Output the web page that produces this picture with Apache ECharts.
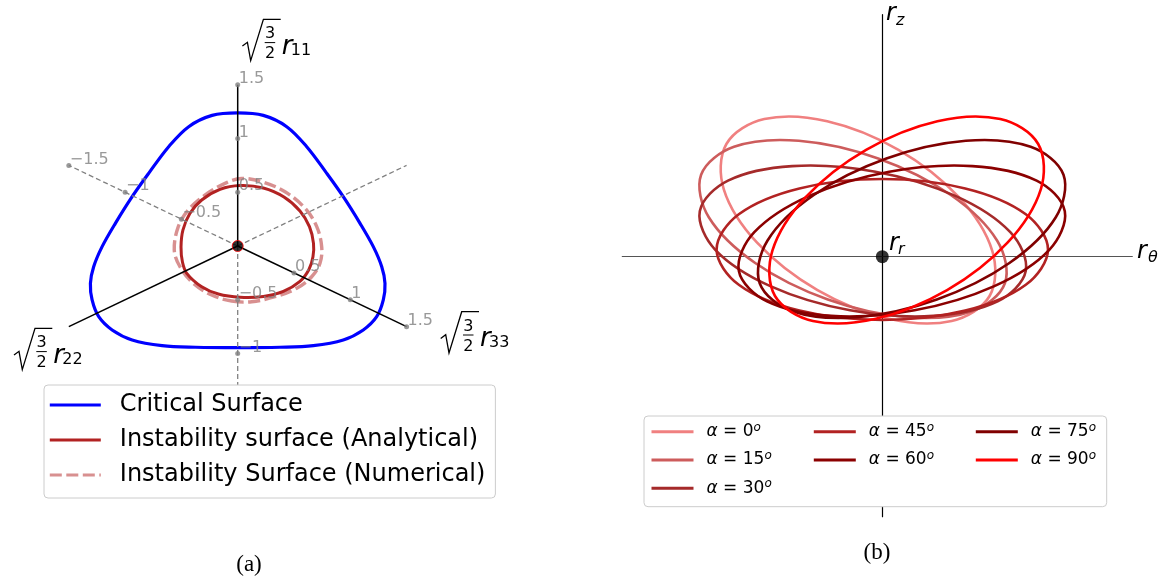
<!DOCTYPE html>
<html>
<head>
<meta charset="utf-8">
<script src="https://cdn.jsdelivr.net/npm/echarts@6/dist/echarts.min.js"></script>
<style>
  html, body { margin: 0; padding: 0; background: #ffffff; }
  #chart { width: 1161px; height: 578px; }
</style>
</head>
<body>
<div id="chart"></div>
<script>
// ---------- Panel (a): sections in the deviatoric plane ----------
// closed curves as [u, v] points in the plane of the three stress axes
const criticalSurface = [
  [0, -0.946], [0.325, -0.942], [0.582, -0.927], [0.812, -0.874], [0.966, -0.781],
  [1.069, -0.658], [1.12, -0.502], [1.133, -0.347], [1.108, -0.193], [1.043, -0.006],
  [0.941, 0.211], [0.812, 0.459], [0.685, 0.676], [0.531, 0.924], [0.377, 1.110],
  [0.197, 1.215], [0, 1.238], [-0.197, 1.215], [-0.377, 1.110], [-0.531, 0.924],
  [-0.685, 0.676], [-0.812, 0.459], [-0.941, 0.211], [-1.043, -0.006], [-1.108, -0.193],
  [-1.133, -0.347], [-1.12, -0.502], [-1.069, -0.658], [-0.966, -0.781], [-0.812, -0.874],
  [-0.582, -0.927], [-0.325, -0.942]
];
const instabilityAnalytical = [
  [0.018, -0.477], [0.197, -0.470], [0.351, -0.423], [0.479, -0.330], [0.548, -0.219],
  [0.579, -0.100], [0.583, 0.025], [0.552, 0.180], [0.479, 0.326], [0.356, 0.456],
  [0.197, 0.540], [0.018, 0.563], [-0.136, 0.527], [-0.277, 0.428], [-0.367, 0.304],
  [-0.421, 0.149], [-0.436, -0.009], [-0.425, -0.149], [-0.392, -0.254], [-0.277, -0.379],
  [-0.149, -0.447]
];
const instabilityNumerical = [
  [-0.046, -0.512], [0.108, -0.518], [0.287, -0.472], [0.454, -0.393], [0.569, -0.286],
  [0.633, -0.161], [0.646, -0.007], [0.608, 0.180], [0.518, 0.351], [0.364, 0.505],
  [0.185, 0.598], [0.03, 0.628], [-0.085, 0.59], [-0.252, 0.474], [-0.38, 0.335],
  [-0.457, 0.18], [-0.488, -0.037], [-0.444, -0.193], [-0.342, -0.347], [-0.2, -0.456]
];
// stress axes: direction in the plane (degrees) and drawn length
const stressAxes = [
  { sub: '11', angle: 90 },
  { sub: '22', angle: 210 },
  { sub: '33', angle: 330 }
];
const axisExtent = 1.5;
const r11Ticks = [0.5, 1, 1.5, -0.5, -1, -1.5];
const r33Ticks = [0.5, 1, 1.5, -0.5, -1, -1.5];

// ---------- Panel (b): loops in the (r_theta, r_z) plane ----------
const alphaLabels = ['0', '15', '30', '45', '60', '75', '90'];
const alphaColors = ['#f08080', '#cd5c5c', '#a52a2a', '#b22222', '#8b0000', '#800000', '#ff0000'];
const loopAlpha0 = [
  [-0.648, -0.335], [0.065, -0.621], [0.694, -0.642], [1.073, -0.393], [1.099, 0.060],
  [0.766, 0.595], [0.162, 1.069], [-0.551, 1.355], [-1.180, 1.376], [-1.559, 1.127],
  [-1.585, 0.674], [-1.252, 0.140]
];
const loopAlpha15 = [
  [-0.545, -0.428], [0.249, -0.605], [0.897, -0.545], [1.226, -0.265], [1.149, 0.160],
  [0.685, 0.617], [-0.041, 0.982], [-0.835, 1.159], [-1.483, 1.099], [-1.812, 0.819],
  [-1.735, 0.394], [-1.271, -0.063]
];
const loopAlpha30 = [
  [-0.322, -0.536], [0.511, -0.592], [1.153, -0.447], [1.435, -0.141], [1.280, 0.245],
  [0.730, 0.608], [-0.069, 0.850], [-0.901, 0.906], [-1.543, 0.761], [-1.825, 0.455],
  [-1.670, 0.069], [-1.120, -0.294]
];
const loopAlpha45 = [
  [0, -0.633], [0.829, -0.539], [1.435, -0.281], [1.657, 0.072], [1.435, 0.425],
  [0.829, 0.683], [0, 0.777], [-0.829, 0.683], [-1.435, 0.425], [-1.657, 0.072],
  [-1.435, -0.281], [-0.829, -0.539]
];
const loopAlpha60 = [
  [0.322, -0.536], [-0.511, -0.592], [-1.153, -0.447], [-1.435, -0.141], [-1.280, 0.245],
  [-0.730, 0.608], [0.069, 0.850], [0.901, 0.906], [1.543, 0.761], [1.825, 0.455],
  [1.670, 0.069], [1.120, -0.294]
];
const loopAlpha75 = [
  [0.545, -0.428], [-0.249, -0.605], [-0.897, -0.545], [-1.226, -0.265], [-1.149, 0.160],
  [-0.685, 0.617], [0.041, 0.982], [0.835, 1.159], [1.483, 1.099], [1.812, 0.819],
  [1.735, 0.394], [1.271, -0.063]
];
const loopAlpha90 = [
  [0.648, -0.335], [-0.065, -0.621], [-0.694, -0.642], [-1.073, -0.393], [-1.099, 0.060],
  [-0.766, 0.595], [-0.162, 1.069], [0.551, 1.355], [1.180, 1.376], [1.559, 1.127],
  [1.585, 0.674], [1.252, 0.140]
];
const alphaLoops = [loopAlpha0, loopAlpha15, loopAlpha30, loopAlpha45, loopAlpha60, loopAlpha75, loopAlpha90];

// ---------- helpers ----------
const FONT = 'DejaVu Sans';
const rad = d => d * Math.PI / 180;
const fmtTick = v => (v < 0 ? '\u2212' : '') + Math.abs(v);
const alphaName = a => '\u03b1=' + a;

const seriesList = [];

// dashed negative half-axes, then solid positive half-axes
stressAxes.forEach(ax => {
  const c = Math.cos(rad(ax.angle)), s = Math.sin(rad(ax.angle));
  seriesList.push({
    type: 'line', xAxisIndex: 0, yAxisIndex: 0, silent: true, symbol: 'none',
    data: [[0, 0], [-axisExtent * c, -axisExtent * s]],
    lineStyle: { color: '#808080', width: 1.3, type: [5, 3] }
  });
});
stressAxes.forEach(ax => {
  const c = Math.cos(rad(ax.angle)), s = Math.sin(rad(ax.angle));
  seriesList.push({
    type: 'line', xAxisIndex: 0, yAxisIndex: 0, silent: true, symbol: 'none',
    data: [[0, 0], [axisExtent * c, axisExtent * s]],
    lineStyle: { color: '#000000', width: 1.5 }
  });
});

// a closed loop through its points, drawn as a smooth closed path on the cartesian grid
function loopSeries(points, color, width, dash, gi) {
  return {
    type: 'custom', coordinateSystem: 'cartesian2d', xAxisIndex: gi, yAxisIndex: gi,
    silent: true, data: points, encode: { x: 0, y: 1 },
    renderItem: (params, api) => {
      if (params.dataIndex !== 0) return null;
      return {
        type: 'polygon',
        shape: { points: points.map(p => api.coord(p)), smooth: 0.35 },
        style: { fill: 'none', stroke: color, lineWidth: width, lineDash: dash || null }
      };
    }
  };
}
// legend entry carrying the line style of a loop
function legendEntry(name, color, width, dash, gi) {
  return {
    name, type: 'line', xAxisIndex: gi, yAxisIndex: gi, data: [], symbol: 'none', silent: true,
    lineStyle: { color, width, type: dash || 'solid' }, itemStyle: { color }
  };
}

const curvesA = [
  { name: 'Critical Surface', data: criticalSurface, color: '#0000ff', width: 3.2, dash: null },
  { name: 'Instability Surface (Numerical)', data: instabilityNumerical, color: 'rgba(178,34,34,0.5)', width: 3.4, dash: [12, 4.5] },
  { name: 'Instability surface (Analytical)', data: instabilityAnalytical, color: '#b22222', width: 3, dash: null }
];
curvesA.forEach(c => {
  seriesList.push(loopSeries(c.data, c.color, c.width, c.dash, 0));
  seriesList.push(legendEntry(c.name, c.color, c.width, c.dash, 0));
});

// tick marks with value labels on the r11 and r33 axes
const c33 = Math.cos(rad(330)), s33 = Math.sin(rad(330));
const tickPoints = [];
r11Ticks.forEach(t => tickPoints.push({ value: [0, t], name: fmtTick(t) }));
r33Ticks.forEach(t => tickPoints.push({ value: [t * c33, t * s33], name: fmtTick(t) }));
seriesList.push({
  type: 'scatter', xAxisIndex: 0, yAxisIndex: 0, silent: true,
  data: tickPoints, symbolSize: 5, z: 3,
  itemStyle: { color: '#808080' },
  label: {
    show: true, position: 'inside', align: 'left', verticalAlign: 'bottom',
    offset: [1, 2], formatter: p => p.name,
    color: '#808080', fontSize: 16, lineHeight: 16, fontFamily: FONT
  }
});
// origin
seriesList.push({
  type: 'scatter', xAxisIndex: 0, yAxisIndex: 0, silent: true,
  data: [[0, 0]], symbolSize: 11, z: 3,
  itemStyle: { color: '#000000', borderColor: '#ff0000', borderWidth: 1 }
});

// panel (b) loops
alphaLoops.forEach((loop, i) => {
  seriesList.push(loopSeries(loop, alphaColors[i], 2.6, null, 1));
  seriesList.push(legendEntry(alphaName(alphaLabels[i]), alphaColors[i], 2.6, null, 1));
});
seriesList.push({
  type: 'scatter', xAxisIndex: 1, yAxisIndex: 1, silent: true,
  data: [[0, 0]], symbolSize: 13, itemStyle: { color: '#000000' }, z: 5
});

// sqrt(3/2) r_ij axis title
function radicalLabel(x, y, sub) {
  const t = (text, tx, ty, font, align, va) => ({
    type: 'text', x: tx, y: ty,
    style: { text, font, fill: '#000', align, verticalAlign: va, textAlign: align, textVerticalAlign: va }
  });
  return {
    type: 'group', x, y, children: [
      { type: 'polyline', shape: { points: [[0.7, 26.7], [5.7, 23], [9, 41.3], [21.7, 0], [39, 0]] },
        style: { stroke: '#000', lineWidth: 1.3, fill: null } },
      t('3', 28.3, 14.7, '16px "DejaVu Sans"', 'center', 'middle'),
      { type: 'line', shape: { x1: 23, y1: 23.3, x2: 33.5, y2: 23.3 }, style: { stroke: '#000', lineWidth: 1 } },
      t('2', 28.3, 34.9, '16px "DejaVu Sans"', 'center', 'middle'),
      t('r', 40, 40.5, 'italic 26px "DejaVu Sans"', 'left', 'bottom'),
      t(sub, 49, 39.5, '16px "DejaVu Sans"', 'left', 'bottom')
    ]
  };
}
function mathLabel(x, y, sub, subDx, subDy) {
  return {
    type: 'group', x, y, children: [
      { type: 'text', x: 0, y: 0, style: { text: 'r', font: 'italic 24px "DejaVu Sans"', fill: '#000',
        align: 'left', verticalAlign: 'bottom', textAlign: 'left', textVerticalAlign: 'bottom' } },
      { type: 'text', x: subDx, y: subDy, style: { text: sub, font: 'italic 16px "DejaVu Sans"', fill: '#000',
        align: 'left', verticalAlign: 'bottom', textAlign: 'left', textVerticalAlign: 'bottom' } }
    ]
  };
}
const caption = (text, x, y) => ({
  type: 'text', x, y,
  style: { text, font: '23px "Liberation Serif"', fill: '#000', align: 'center', verticalAlign: 'middle',
    textAlign: 'center', textVerticalAlign: 'middle' }
});

const alphaRich = {
  i: { fontStyle: 'italic', fontSize: 17, fontFamily: FONT, lineHeight: 20 },
  n: { fontSize: 17, fontFamily: FONT, lineHeight: 20 },
  s: { fontStyle: 'italic', fontSize: 12, fontFamily: FONT, lineHeight: 12, verticalAlign: 'top' }
};
const alphaLegend = (names, left) => ({
  orient: 'vertical', left, top: 421.7, padding: 0, itemGap: 8.3,
  itemWidth: 42, itemHeight: 14, selectedMode: false,
  data: names,
  itemStyle: { opacity: 0 },
  lineStyle: { width: 3 },
  formatter: name => '{i|\u03b1}{n| = ' + name.split('=')[1] + '}{s|o}',
  textStyle: { fontSize: 17, fontFamily: FONT, color: '#000', lineHeight: 20, padding: [0, 0, 0, 8], rich: alphaRich }
});

const option = {
  animation: false,
  backgroundColor: '#ffffff',
  textStyle: { fontFamily: FONT },
  grid: [
    { left: 3.7, top: 74, width: 468, height: 344 },
    { left: 622.3, top: 14.7, width: 510, height: 502 }
  ],
  xAxis: [
    { gridIndex: 0, type: 'value', min: -1.8, max: 1.8, show: false },
    { gridIndex: 1, type: 'value', min: -2.6, max: 2.5,
      axisLine: { show: true, onZero: true, lineStyle: { color: '#555555', width: 1.2 } },
      axisTick: { show: false }, axisLabel: { show: false }, splitLine: { show: false } }
  ],
  yAxis: [
    { gridIndex: 0, type: 'value', min: -1.6, max: 1.6, show: false },
    { gridIndex: 1, type: 'value', min: -2.6, max: 2.42,
      axisLine: { show: true, onZero: true, lineStyle: { color: '#000000', width: 1.2 } },
      axisTick: { show: false }, axisLabel: { show: false }, splitLine: { show: false } }
  ],
  legend: [
    {
      orient: 'vertical', left: 44, top: 385,
      padding: [5.5, 10, 8.5, 4.3], itemGap: 6, itemWidth: 51, itemHeight: 20,
      selectedMode: false,
      backgroundColor: '#ffffff', borderColor: '#cccccc', borderWidth: 1, borderRadius: 4,
      data: ['Critical Surface', 'Instability surface (Analytical)', 'Instability Surface (Numerical)'],
      itemStyle: { opacity: 0 },
      lineStyle: { width: 3 },
      textStyle: { fontSize: 24, fontFamily: FONT, color: '#000', lineHeight: 29, padding: [0, 0, 0, 14] }
    },
    alphaLegend([alphaName('0'), alphaName('15'), alphaName('30')], 650),
    alphaLegend([alphaName('45'), alphaName('60')], 812.3),
    alphaLegend([alphaName('75'), alphaName('90')], 974.3)
  ],
  graphic: [
    { type: 'rect', z: 3, shape: { x: 644, y: 416, width: 462.7, height: 90.7, r: 4 },
      style: { fill: '#ffffff', stroke: '#cccccc', lineWidth: 1 } },
    radicalLabel(241.7, 19.3, '11'),
    radicalLabel(13.3, 328.3, '22'),
    radicalLabel(440, 311.7, '33'),
    mathLabel(1137, 263.7, '\u03b8', 11, 2.5),
    mathLabel(886, 26, 'z', 10, 3),
    mathLabel(889, 255.7, 'r', 9, 2),
    caption('(a)', 249, 565),
    caption('(b)', 877, 553)
  ],
  series: seriesList
};

const chart = echarts.init(document.getElementById('chart'), null, { renderer: 'canvas' });
chart.setOption(option);
</script>
</body>
</html>
